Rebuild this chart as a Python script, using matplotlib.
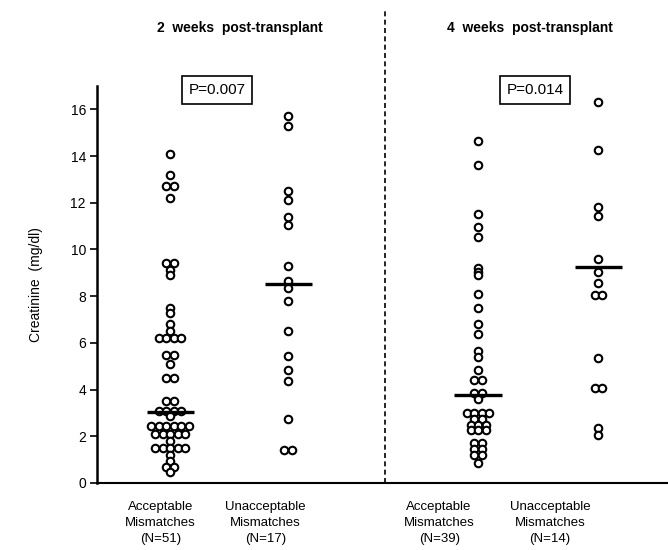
import numpy as np
import matplotlib
matplotlib.use("Agg")
import matplotlib.pyplot as plt
from collections import Counter

# ---- data ----
wk2_acceptable = [14.1, 13.2, 12.7, 12.7, 12.2, 9.4, 9.4, 9.1, 8.9,
                  7.5, 7.3, 6.8, 6.5, 6.2, 6.2, 6.2, 6.2,
                  5.5, 5.5, 5.1, 4.5, 4.5, 3.5, 3.5,
                  3.1, 3.1, 3.1, 3.1, 2.85,
                  2.45, 2.45, 2.45, 2.45, 2.45, 2.45,
                  2.1, 2.1, 2.1, 2.1, 2.1, 1.8,
                  1.5, 1.5, 1.5, 1.5, 1.5,
                  1.2, 0.95, 0.7, 0.7, 0.45]
wk2_unacceptable = [15.7, 15.3, 12.5, 12.1, 11.4, 11.05, 9.3, 8.65, 8.35,
                    7.8, 6.5, 5.45, 4.85, 4.35, 2.75, 1.4, 1.4]
wk4_acceptable = [14.65, 13.6, 11.5, 10.95, 10.55, 9.2, 9.05, 8.9, 8.1, 7.5,
                  6.8, 6.4, 5.65, 5.4, 4.85, 4.4, 4.4,
                  3.85, 3.85, 3.6, 3.0, 3.0, 3.0, 3.0,
                  2.75, 2.75, 2.5, 2.5, 2.5, 2.25, 2.25, 2.25,
                  1.7, 1.7, 1.45, 1.45, 1.2, 1.2, 0.85]
wk4_unacceptable = [16.3, 14.25, 11.8, 11.45, 9.6, 9.05, 8.55, 8.05, 8.05,
                    5.35, 4.05, 4.05, 2.35, 2.05]
medians = [3.05, 8.53, 3.75, 9.25]
groups = [wk2_acceptable, wk2_unacceptable, wk4_acceptable, wk4_unacceptable]
group_labels = ["Acceptable\nMismatches\n(N=51)", "Unacceptable\nMismatches\n(N=17)",
                "Acceptable\nMismatches\n(N=39)", "Unacceptable\nMismatches\n(N=14)"]
panel_titles = ["2  weeks  post-transplant", "4  weeks  post-transplant"]
p_values = ["P=0.007", "P=0.014"]
y_ticks = [0, 2, 4, 6, 8, 10, 12, 14, 16]

# ---- layout ----
positions = [1.0, 2.0, 3.61, 4.63]
label_pos = [0.92, 1.81, 3.28, 4.22]
divider_x = 2.82
spacing = 0.064

plt.rcParams['font.family'] = ['Liberation Sans', 'DejaVu Sans']
fig = plt.figure(figsize=(6.68, 5.5), dpi=100)
ax = fig.add_axes([97/668, 67/550, 1 - 97/668, 397/550])
ax.set_xlim(0.38, 5.22)
ax.set_ylim(0, 17)

for pos, vals, med in zip(positions, groups, medians):
    cnt = Counter(vals)
    seen = Counter()
    xs = []
    for v in vals:
        n = cnt[v]
        i = seen[v]
        seen[v] += 1
        xs.append(pos + (i - (n - 1) / 2) * spacing)
    ax.plot(xs, vals, linestyle='none', marker='o', markersize=5.4,
            markerfacecolor='white', markeredgecolor='black', markeredgewidth=1.5,
            zorder=3, clip_on=False)
    ax.hlines(med, pos - 0.2, pos + 0.2, color='black', linewidth=2.4, zorder=4)

for s in ['top', 'right']:
    ax.spines[s].set_visible(False)
ax.spines['left'].set_linewidth(1.8)
ax.spines['bottom'].set_linewidth(1.5)
ax.set_xticks([])
ax.set_yticks(y_ticks)
ax.set_yticklabels([str(t) for t in y_ticks], fontsize=10)
ax.tick_params(axis='y', length=5, width=1.2, pad=3)
ax.set_ylabel("Creatinine  (mg/dl)", fontsize=10, labelpad=20)

# dashed divider
ax.plot([divider_x, divider_x], [0, 20.3], linestyle=(0, (3, 2)), color='black',
        linewidth=1.2, clip_on=False)

for lp, lab in zip(label_pos, group_labels):
    ax.text(lp, -0.75, lab, ha='center', va='top', fontsize=9.5,
            linespacing=1.45, transform=ax.transData)

fig.text(240/668, 1 - 28/550, panel_titles[0], ha='center', va='center',
         fontsize=10, fontweight='bold')
fig.text(530/668, 1 - 28/550, panel_titles[1], ha='center', va='center',
         fontsize=10, fontweight='bold')

box = dict(boxstyle='square,pad=0.45', facecolor='white', edgecolor='black', linewidth=1.2)
fig.text(217/668, 1 - 90/550, p_values[0], ha='center', va='center', fontsize=11, bbox=box)
fig.text(535/668, 1 - 90/550, p_values[1], ha='center', va='center', fontsize=11, bbox=box)

fig.savefig("out.png", dpi=100)
